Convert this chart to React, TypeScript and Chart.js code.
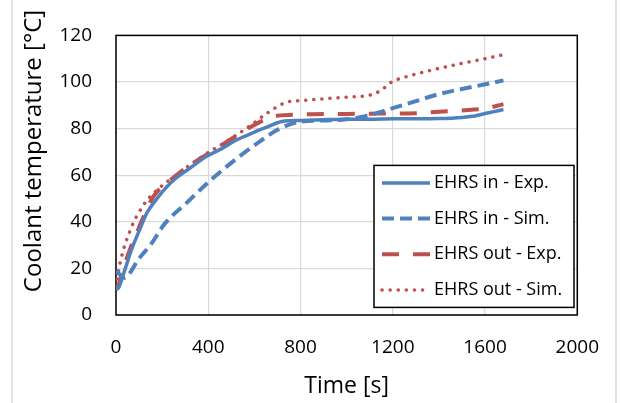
import React, { useEffect, useRef } from "react";
import { Chart, registerables } from "chart.js";

Chart.register(...registerables);

// ---- data ----
const seriesLabels = ["EHRS in - Exp.", "EHRS in - Sim.", "EHRS out - Exp.", "EHRS out - Sim."];

const inExpT = [0, 10, 37, 66, 100, 135, 170, 220, 261, 320, 391, 460, 520, 600, 650, 700, 730, 800, 900, 1000, 1100, 1200, 1300, 1400, 1500, 1560, 1600, 1640, 1680];
const inExpV = [11, 11.5, 19, 27.7, 36, 44, 49, 55, 58.8, 63, 68, 71.5, 75, 78.5, 80.5, 82.5, 83.3, 83.5, 83.8, 84, 84, 84.2, 84.2, 84.3, 84.8, 85.5, 86.5, 87.3, 88.2];

const inSimT = [0, 37, 60, 95, 152, 210, 305, 405, 520, 621, 700, 760, 800, 900, 1000, 1100, 1200, 1300, 1400, 1500, 1600, 1680];
const inSimV = [19, 16, 18, 23.6, 30.4, 39, 48, 57.4, 66.9, 74.3, 79.5, 82, 83, 83.5, 84, 85.8, 88.8, 91.8, 94.8, 97, 99, 100.7];

const outExpT = [0, 15, 32, 60, 89, 132, 161, 247, 319, 405, 491, 578, 650, 700, 800, 900, 1000, 1100, 1200, 1300, 1400, 1500, 1600, 1680];
const outExpV = [11, 14, 20, 28, 35, 45, 50.7, 58.8, 64.2, 69.6, 75, 80.4, 84, 85.5, 86, 86.3, 86.3, 86.4, 86.5, 86.6, 87.2, 87.8, 88.6, 90.5];

const outSimT = [0, 17, 60, 118, 190, 261, 376, 477, 578, 664, 736, 800, 900, 1000, 1109, 1150, 1195, 1250, 1382, 1500, 1600, 1669];
const outSimV = [12, 22, 36, 47, 54.7, 60, 68.2, 74.3, 81, 87.2, 91.2, 92, 92.8, 93.5, 94.6, 96.5, 100, 102, 105.4, 108, 110, 111.5];

const xMin = 0, xMax = 2000, xStep = 400;
const yMin = 0, yMax = 120, yStep = 20;
const xTitle = "Time [s]";
const yTitle = "Coolant temperature [°C]";

const BLUE = "#4f81bd";
const RED = "#c0504d";
const FONT = "'Open Sans', sans-serif";

const pts = (t: number[], v: number[]) => t.map((x, i) => ({ x, y: v[i] }));

const styles = [
  { color: BLUE, width: 3.5, dash: [] as number[], cap: "butt" },
  { color: BLUE, width: 4, dash: [12, 6], cap: "butt" },
  { color: RED, width: 4, dash: [17, 14], cap: "butt" },
  { color: RED, width: 3.5, dash: [0.1, 8], cap: "round" },
];

const extras = {
  id: "extras",
  beforeDraw(chart: any) {
    const ctx = chart.ctx;
    ctx.save();
    ctx.fillStyle = "#ffffff";
    ctx.fillRect(0, 0, chart.width, chart.height);
    ctx.strokeStyle = "#d9d9d9";
    ctx.lineWidth = 1.5;
    ctx.beginPath();
    ctx.moveTo(12, 0);
    ctx.lineTo(12, chart.height);
    ctx.moveTo(616, 0);
    ctx.lineTo(616, chart.height);
    ctx.stroke();
    ctx.restore();
  },
  beforeDatasetsDraw(chart: any) {
    const { ctx, chartArea: a } = chart;
    ctx.save();
    ctx.strokeStyle = "#000";
    ctx.lineWidth = 1.5;
    ctx.strokeRect(a.left, a.top, a.right - a.left, a.bottom - a.top);
    ctx.restore();
  },
  afterDraw(chart: any) {
    const { ctx, chartArea: a } = chart;
    ctx.save();
    // y title
    ctx.fillStyle = "#000";
    ctx.font = `24px ${FONT}`;
    ctx.textAlign = "center";
    ctx.textBaseline = "middle";
    ctx.translate(34, 151);
    ctx.rotate(-Math.PI / 2);
    ctx.fillText(yTitle, 0, 0);
    ctx.restore();

    ctx.save();
    ctx.fillStyle = "#000";
    ctx.font = `23px ${FONT}`;
    ctx.textAlign = "center";
    ctx.textBaseline = "middle";
    ctx.fillText(xTitle, (a.left + a.right) / 2, 386);
    ctx.restore();

    // legend
    const bx = a.left + 258, by = a.top + 130, bw = 200, bh = 142;
    ctx.save();
    ctx.fillStyle = "#fff";
    ctx.fillRect(bx, by, bw, bh);
    ctx.strokeStyle = "#000";
    ctx.lineWidth = 1.5;
    ctx.strokeRect(bx, by, bw, bh);
    ctx.font = `18px ${FONT}`;
    ctx.textBaseline = "middle";
    ctx.textAlign = "left";
    seriesLabels.forEach((lab, i) => {
      const s = styles[i];
      const cy = by + 17.5 + i * 35.7;
      ctx.save();
      ctx.strokeStyle = s.color;
      ctx.lineWidth = s.width;
      ctx.setLineDash(s.dash);
      ctx.lineCap = s.cap;
      ctx.beginPath();
      ctx.moveTo(bx + 8, cy);
      ctx.lineTo(bx + 56, cy);
      ctx.stroke();
      ctx.restore();
      ctx.fillStyle = "#000";
      ctx.fillText(lab, bx + 60, cy);
    });
    ctx.restore();
  },
};

export default function App() {
  const ref = useRef<HTMLCanvasElement | null>(null);
  useEffect(() => {
    if (!ref.current) return;
    const series = [pts(inExpT, inExpV), pts(inSimT, inSimV), pts(outExpT, outExpV), pts(outSimT, outSimV)];
    const chart = new Chart(ref.current, {
      type: "line",
      data: {
        datasets: series.map((d, i) => ({
          label: seriesLabels[i],
          data: d,
          borderColor: styles[i].color,
          backgroundColor: styles[i].color,
          borderWidth: styles[i].width,
          borderDash: styles[i].dash,
          borderCapStyle: styles[i].cap as any,
          pointRadius: 0,
          cubicInterpolationMode: "monotone" as const,
          fill: false,
        })),
      },
      options: {
        animation: false,
        responsive: true,
        maintainAspectRatio: false,
        layout: { padding: { left: 0, top: 19, right: 40, bottom: 0 } },
        plugins: { legend: { display: false }, tooltip: { enabled: false } },
        scales: {
          x: {
            type: "linear",
            min: xMin,
            max: xMax,
            ticks: {
              stepSize: xStep,
              color: "#000",
              font: { family: FONT, size: 19 },
              padding: 21,
              maxRotation: 0,
              callback: (v: any) => String(v),
            },
            grid: { color: "#d9d9d9", lineWidth: 1.2, drawTicks: false },
            border: { display: false },
            afterFit: (s: any) => { s.height = 88; },
          },
          y: {
            min: yMin,
            max: yMax,
            ticks: {
              stepSize: yStep,
              color: "#000",
              font: { family: FONT, size: 19 },
              padding: 24,
              callback: (v: any) => String(v),
            },
            grid: { color: "#d9d9d9", lineWidth: 1.2, drawTicks: false },
            border: { display: false },
            afterFit: (s: any) => { s.width = 116; },
          },
        },
      },
      plugins: [extras],
    });
    return () => chart.destroy();
  }, []);
  return (
    <div style={{ position: "fixed", left: 0, top: 0, width: 620, height: 403, background: "#fff" }}>
      <canvas ref={ref} />
    </div>
  );
}
